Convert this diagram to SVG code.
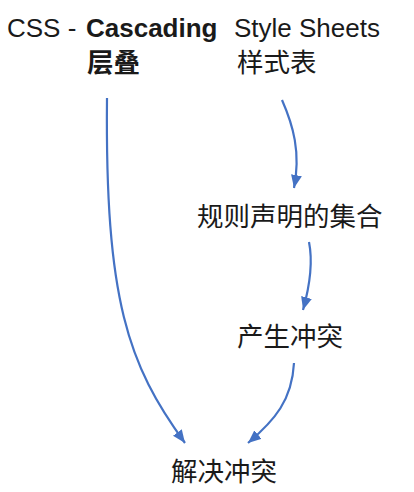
<svg xmlns="http://www.w3.org/2000/svg" width="414" height="492" viewBox="0 0 414 492">
  <style>
    .t { font-family: "Liberation Sans", "Noto Sans CJK SC", sans-serif; font-size: 26px; fill: #1a1a1a; }
    .cjk { font-family: "Noto Sans CJK SC", sans-serif; font-size: 26.5px; fill: #1a1a1a; }
    .b { font-weight: bold; }
    .conn { fill: none; stroke: #4472c4; stroke-width: 2.2; marker-end: url(#ah); }
  </style>
  <defs>
    <marker id="ah" markerUnits="userSpaceOnUse" markerWidth="13" markerHeight="11" refX="13" refY="5.5" orient="auto">
      <path d="M0,0 L13,5.5 L0,11 z" fill="#4472c4"/>
    </marker>
  </defs>
  <rect width="414" height="492" fill="#ffffff"/>
  <g id="title">
    <text class="t" x="7" y="37">CSS - <tspan class="b" x="86">Cascading</tspan><tspan x="234">Style Sheets</tspan></text>
  </g>
  <g id="n-cascading">
    <text class="cjk b" x="87" y="72">层叠</text>
  </g>
  <g id="n-style">
    <text class="cjk" x="237" y="72">样式表</text>
  </g>
  <g id="n-rules">
    <text class="cjk" x="197" y="226">规则声明的集合</text>
  </g>
  <g id="n-conflict">
    <text class="cjk" x="237" y="346">产生冲突</text>
  </g>
  <g id="n-resolve">
    <text class="cjk" x="171" y="481">解决冲突</text>
  </g>
  <g id="connectors">
    <path class="conn" d="M107,98 C105,300 128,365 185,443"/>
    <path class="conn" d="M282,100 C293,125 301,152 294,188"/>
    <path class="conn" d="M309,242 C313,262 310,285 303,310"/>
    <path class="conn" d="M294,363 C292,400 275,420 248,443"/>
  </g>
</svg>
